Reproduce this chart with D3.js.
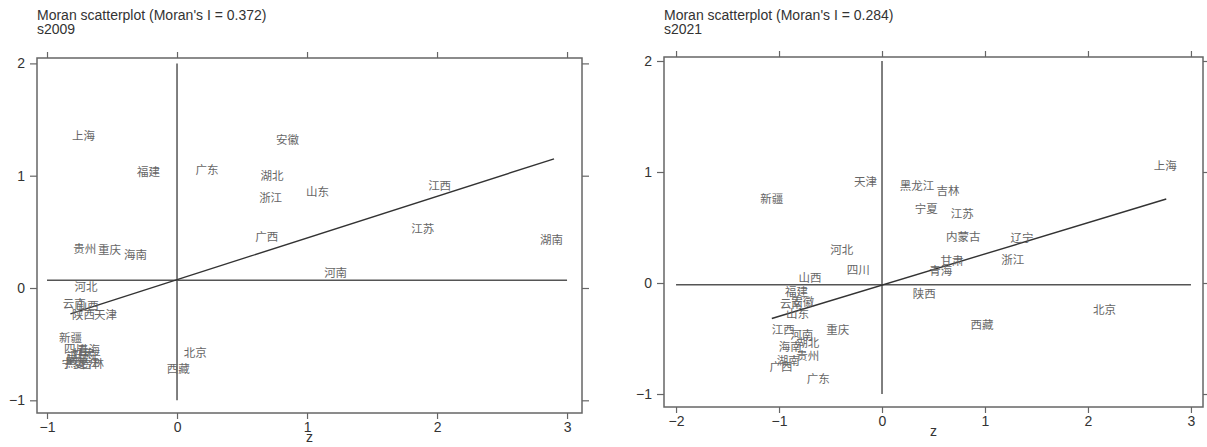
<!DOCTYPE html>
<html>
<head>
<meta charset="utf-8">
<script src="https://cdn.jsdelivr.net/npm/d3@7"></script>
<style>
  body { margin: 0; background: #fff; }
  svg text { font-family: "Liberation Sans", Arial, sans-serif; }
  .lbl { font-family: "Noto Sans CJK SC", sans-serif; font-size: 11.5px; fill: #666; }
</style>
</head>
<body>
<div id="chart"></div>
<script>
// ---- data ----
const names2009 = ["上海","福建","广东","安徽","湖北","浙江","山东","广西","贵州","重庆","海南","河北",
  "江西","江苏","湖南","河南","云南","山西","陕西","天津","新疆","四川","青海","甘肃","辽宁","内蒙古",
  "宁夏","黑龙江","吉林","北京","西藏"];
const z2009 = [-0.72,-0.22,0.23,0.85,0.73,0.72,1.08,0.69,-0.71,-0.52,-0.32,-0.70,
  2.02,1.89,2.88,1.22,-0.79,-0.69,-0.72,-0.55,-0.82,-0.78,-0.68,-0.72,-0.76,-0.72,
  -0.80,-0.73,-0.65,0.14,0.01];
const lag2009 = [1.36,1.04,1.06,1.33,1.01,0.81,0.86,0.46,0.36,0.35,0.30,0.02,
  0.92,0.53,0.44,0.14,-0.13,-0.15,-0.23,-0.23,-0.44,-0.53,-0.54,-0.58,-0.60,-0.62,
  -0.67,-0.66,-0.67,-0.57,-0.71];

const names2021 = ["上海","天津","新疆","黑龙江","吉林","宁夏","江苏","内蒙古","辽宁","浙江","甘肃","青海",
  "河北","四川","山西","陕西","北京","西藏","福建","云南","安徽","山东","江西","河南","重庆","湖北",
  "海南","贵州","湖南","广西","广东"];
const z2021 = [2.75,-0.16,-1.07,0.34,0.64,0.43,0.78,0.79,1.36,1.27,0.68,0.57,
  -0.39,-0.23,-0.70,0.41,2.16,0.97,-0.83,-0.88,-0.77,-0.82,-0.96,-0.78,-0.43,-0.72,
  -0.89,-0.72,-0.91,-0.98,-0.62];
const lag2021 = [1.06,0.92,0.77,0.88,0.84,0.68,0.63,0.42,0.41,0.22,0.21,0.12,
  0.31,0.13,0.05,-0.09,-0.23,-0.37,-0.07,-0.18,-0.16,-0.27,-0.41,-0.46,-0.41,-0.53,
  -0.57,-0.65,-0.69,-0.75,-0.86];

const xTicks2009 = [-1, 0, 1, 2, 3];
const xTicks2021 = [-2, -1, 0, 1, 2, 3];
const yTicks = [-1, 0, 1, 2];

// mean lines and fitted line ends
const hLine2009 = { x: [-1, 3], y: 0.07 };
const hLine2021 = { x: [-2, 3], y: -0.015 };
const vLine = { x: 0, y: [-1, 2] };
const fit2009 = [[-0.82, -0.23], [2.9, 1.15]];
const fit2021 = [[-1.07, -0.32], [2.76, 0.757]];

const panels = [
  { title: "Moran scatterplot (Moran's I = 0.372)", sub: "s2009",
    names: names2009, zs: z2009, lags: lag2009, xTicks: xTicks2009,
    xDomain: [-1.077, 3.115], xRange: [37, 582], yDomain: [-1.113, 2.048], yRange: [413, 58],
    hLine: hLine2009, fit: fit2009 },
  { title: "Moran scatterplot (Moran's I = 0.284)", sub: "s2021",
    names: names2021, zs: z2021, lags: lag2021, xTicks: xTicks2021,
    xDomain: [-2.117, 3.117], xRange: [664, 1203], yDomain: [-1.117, 2.036], yRange: [407, 57],
    hLine: hLine2021, fit: fit2021 }
];

const svg = d3.select("#chart").append("svg")
  .attr("width", 1207).attr("height", 447);

panels.forEach(p => {
  const x = d3.scaleLinear().domain(p.xDomain).range(p.xRange);
  const y = d3.scaleLinear().domain(p.yDomain).range(p.yRange);
  const g = svg.append("g");
  const [x0, x1] = p.xRange, [yb, yt] = p.yRange;

  g.append("text").attr("x", x0).attr("y", 20).attr("font-size", 14).attr("fill", "#333").text(p.title);
  g.append("text").attr("x", x0).attr("y", 34).attr("font-size", 14).attr("fill", "#333").text(p.sub);

  const styleAxis = sel => {
    sel.select(".domain").remove();
    sel.selectAll(".tick line").attr("stroke", "#666").attr("stroke-width", 1.2);
    sel.selectAll(".tick text").attr("fill", "#333").attr("font-size", 14)
      .attr("font-family", "Liberation Sans, Arial, sans-serif");
  };

  g.append("g").attr("transform", `translate(0,${yb})`)
    .call(d3.axisBottom(x).tickValues(p.xTicks).tickSize(6).tickPadding(3).tickFormat(d3.format("d")))
    .call(styleAxis);
  g.append("g").attr("transform", `translate(0,${yt})`)
    .call(d3.axisTop(x).tickValues(p.xTicks).tickSize(6).tickFormat(""))
    .call(styleAxis);
  g.append("g").attr("transform", `translate(${x0},0)`)
    .call(d3.axisLeft(y).tickValues(yTicks).tickSize(7).tickPadding(5).tickFormat(d3.format("d")))
    .call(styleAxis);
  g.append("g").attr("transform", `translate(${x1},0)`)
    .call(d3.axisRight(y).tickValues(yTicks).tickSize(7).tickFormat(""))
    .call(styleAxis);

  g.append("rect").attr("x", x0).attr("y", yt).attr("width", x1 - x0).attr("height", yb - yt)
    .attr("fill", "none").attr("stroke", "#666").attr("stroke-width", 1.5);

  g.append("text").attr("x", (x0 + x1) / 2).attr("y", yb + 29).attr("text-anchor", "middle")
    .attr("font-size", 14).attr("fill", "#333").text("z");

  // mean lines
  g.append("line").attr("x1", x(vLine.x)).attr("x2", x(vLine.x))
    .attr("y1", y(vLine.y[0])).attr("y2", y(vLine.y[1]))
    .attr("stroke", "#555").attr("stroke-width", 1.5);
  g.append("line").attr("x1", x(p.hLine.x[0])).attr("x2", x(p.hLine.x[1]))
    .attr("y1", y(p.hLine.y)).attr("y2", y(p.hLine.y))
    .attr("stroke", "#555").attr("stroke-width", 1.5);

  // fitted line
  g.append("path").datum(p.fit)
    .attr("d", d3.line().x(d => x(d[0])).y(d => y(d[1])))
    .attr("fill", "none").attr("stroke", "#333").attr("stroke-width", 1.4);

  // province labels
  g.selectAll(".lbl").data(p.names).enter().append("text")
    .attr("class", "lbl")
    .attr("x", (d, i) => x(p.zs[i]))
    .attr("y", (d, i) => y(p.lags[i]))
    .attr("text-anchor", "middle")
    .attr("dominant-baseline", "central")
    .text(d => d);
});
</script>
</body>
</html>
